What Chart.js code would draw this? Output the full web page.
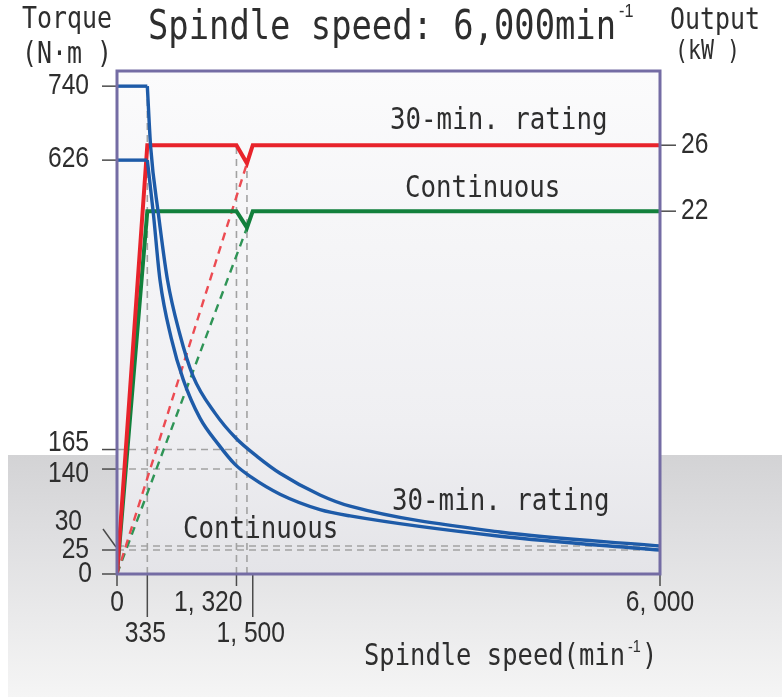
<!DOCTYPE html>
<html>
<head>
<meta charset="utf-8">
<script src="https://cdn.jsdelivr.net/npm/chart.js@4.4.1/dist/chart.umd.min.js"></script>
<style>
  html, body { margin: 0; padding: 0; background: #fff; }
  canvas { display: block; }
</style>
</head>
<body>
<canvas id="chart" width="782" height="697"></canvas>
<script>
// output curves (kW) against spindle speed (min^-1)
const outputSpeeds = [0, 335, 1320, 1436, 1500, 6000];
const output30min = [0, 26, 26, 24.9, 26, 26];
const outputContinuous = [0, 22, 22, 21, 22, 22];

// dashed output lines, from the origin down into the dip
const dashSpeeds = [0, 1436];
const dash30min = [0, 24.9];
const dashContinuous = [0, 21];

// torque curves (N·m)
const flatSpeeds = [0, 335];
const flat30min = [740, 740];
const flatContinuous = [626, 626];
const torque30Speeds = [335, 372, 456, 558, 690, 840, 1083, 1315, 1550, 1801, 2243, 2575, 4232, 6000];
const torque30min = [740, 646, 542, 435, 351, 282, 223, 183, 156, 134, 103, 87, 50, 30];
const torqueContSpeeds = [335, 401, 475, 600, 733, 917, 1116, 1304, 1488, 1801, 2243, 2575, 4232, 6000];
const torqueContinuous = [626, 542, 435, 342, 276, 215, 174, 146, 128, 104, 82, 73, 44, 25];

// grey guide lines
const guideTorques = [165, 140, 30, 25];
const guideTorqueEnds = [1320, 1320, 6000, 6000];

// tick labels
const torqueTicks = [740, 626, 165, 140, 30, 25, 0];
const outputTicks = [26, 22];
const speedTicks = [0, 335, 1320, 1500, 6000];

// the torque axis in the original is not linear: each labelled value is pinned to its height
const torqueBreaks = [[0, 0], [25, 36.4], [30, 42.5], [140, 159.2], [165, 188.8], [626, 627.8], [740, 740]];

function warpTorque(t) {
    for (let i = 1; i < torqueBreaks.length; i++) {
        const [t0, v0] = torqueBreaks[i - 1];
        const [t1, v1] = torqueBreaks[i];
        if (t <= t1) {
            return v0 + (t - t0) * (v1 - v0) / (t1 - t0);
        }
    }
    return t;
}

class TorqueScale extends Chart.LinearScale {
    getPixelForValue(value) {
        return super.getPixelForValue(warpTorque(value));
    }
}
TorqueScale.id = "torque";
TorqueScale.defaults = Chart.LinearScale.defaults;
Chart.register(TorqueScale);

const mono = '"DejaVu Sans Mono", "Liberation Mono", monospace';
const sans = '"Liberation Sans", Arial, sans-serif';
const ink = "#2e2e2e";

function text(ctx, str, x, y, size, family, align, squeeze) {
    ctx.save();
    ctx.font = `${size}px ${family}`;
    ctx.textAlign = align;
    ctx.textBaseline = "middle";
    ctx.fillStyle = ink;
    ctx.translate(x, y);
    ctx.scale(squeeze, 1);
    ctx.fillText(str, 0, 0);
    ctx.restore();
}

function stroke(ctx, x1, y1, x2, y2) {
    ctx.beginPath();
    ctx.moveTo(x1, y1);
    ctx.lineTo(x2, y2);
    ctx.stroke();
}

function formatSpeed(n) {
    return n >= 1000 ? n.toLocaleString("en-US").replace(",", ", ") : String(n);
}

const pts = (xs, ys) => xs.map((x, i) => ({ x, y: ys[i] }));

function guide(data, yAxisID) {
    return { data, yAxisID, borderColor: "#a2a2a2", borderWidth: 1.6, borderDash: [7, 5], order: 4 };
}

const backdrop = {
    id: "backdrop",
    beforeDraw(chart) {
        const { ctx, chartArea: a, width, height } = chart;
        ctx.save();
        ctx.fillStyle = "#fff";
        ctx.fillRect(0, 0, width, height);
        const floor = ctx.createLinearGradient(0, 455, 0, height);
        floor.addColorStop(0, "#d3d3d5");
        floor.addColorStop(0.35, "#dfdfe1");
        floor.addColorStop(1, "#f5f5f5");
        ctx.fillStyle = floor;
        ctx.fillRect(8, 455, width - 8, height - 455);
        const panel = ctx.createLinearGradient(0, a.top, 0, a.bottom);
        panel.addColorStop(0, "#fbfbfc");
        panel.addColorStop(0.7, "#efeff2");
        panel.addColorStop(1, "#e4e4e8");
        ctx.fillStyle = panel;
        ctx.fillRect(a.left, a.top, a.right - a.left, a.bottom - a.top);
        ctx.restore();
    }
};

// label tweaks: vertical shift and distance from the axis
const torqueLabelShift = [0, -1, -7, 5, -24, 0, 0];
const torqueLabelGap = [28, 28, 28, 28, 35, 28, 25];
const speedTickLong = [false, true, false, true, false];

const frame = {
    id: "frame",
    afterDraw(chart) {
        const { ctx, chartArea: a, scales } = chart;
        const sx = scales.x;
        const st = scales.torque;
        const sp = scales.power;
        ctx.save();
        ctx.strokeStyle = "#4b4b4b";
        ctx.lineWidth = 1.5;

        torqueTicks.forEach((v, i) => {
            const y = st.getPixelForValue(v);
            if (v === 30) {
                stroke(ctx, a.left - 14, y - 17, a.left - 1, y + 1);
            } else {
                stroke(ctx, a.left - 15, y, a.left, y);
            }
            text(ctx, String(v), a.left - torqueLabelGap[i], y + torqueLabelShift[i], 30, sans, "right", 0.82);
        });

        outputTicks.forEach((v) => {
            const y = sp.getPixelForValue(v);
            stroke(ctx, a.right, y, a.right + 16, y);
            text(ctx, String(v), a.right + 21, y, 30, sans, "left", 0.82);
        });

        speedTicks.forEach((v, i) => {
            const x = sx.getPixelForValue(v);
            const long = speedTickLong[i];
            stroke(ctx, x, a.bottom, x, a.bottom + (long ? 43 : 12));
            const label = formatSpeed(v);
            if (long) {
                text(ctx, label, x - 2, a.bottom + 60, 30, sans, "center", 0.82);
            } else if (v === 1320) {
                text(ctx, label, x + 6, a.bottom + 29, 30, sans, "right", 0.82);
            } else {
                text(ctx, label, x, a.bottom + 29, 30, sans, "center", 0.82);
            }
        });

        ctx.strokeStyle = "#746ca4";
        ctx.lineWidth = 3;
        ctx.strokeRect(a.left, a.top, a.right - a.left, a.bottom - a.top);

        text(ctx, "Spindle speed: 6,000min", 148, 29, 40, mono, "left", 0.845);
        text(ctx, "-1", 619, 12, 18, sans, "left", 0.9);

        text(ctx, "Torque", 22, 20, 30, mono, "left", 0.83);
        text(ctx, "(N·m )", 22, 55, 30, mono, "left", 0.83);
        text(ctx, "Output", 670, 21, 30, mono, "left", 0.83);
        text(ctx, "(kW )", 675, 52, 26, mono, "left", 0.83);

        text(ctx, "30-min. rating", 390, 121, 30, mono, "left", 0.86);
        text(ctx, "Continuous", 405, 189, 30, mono, "left", 0.86);
        text(ctx, "30-min. rating", 392, 502, 30, mono, "left", 0.86);
        text(ctx, "Continuous", 183, 530, 30, mono, "left", 0.86);

        text(ctx, "Spindle speed(min", 364, 657, 30, mono, "left", 0.85);
        text(ctx, "-1", 628, 648, 16, sans, "left", 0.9);
        text(ctx, ")", 642, 657, 30, mono, "left", 0.85);
        ctx.restore();
    }
};

const datasets = [];
guideTorques.forEach((t, i) => {
    datasets.push(guide(pts([0, guideTorqueEnds[i]], [t, t]), "torque"));
});
datasets.push(guide(pts([flatSpeeds[1], flatSpeeds[1]], [0, flat30min[1]]), "torque"));
datasets.push(guide(pts([outputSpeeds[2], outputSpeeds[2]], [0, output30min[2]]), "power"));
datasets.push(guide(pts([outputSpeeds[3], outputSpeeds[3]], [0, output30min[3]]), "power"));

datasets.push({
    data: pts(dashSpeeds, dash30min), yAxisID: "power",
    borderColor: "#ec4b52", borderWidth: 2.4, borderDash: [8, 6], order: 3
});
datasets.push({
    data: pts(dashSpeeds, dashContinuous), yAxisID: "power",
    borderColor: "#2f9456", borderWidth: 2.4, borderDash: [8, 6], order: 3
});
datasets.push({
    data: pts(outputSpeeds, output30min), yAxisID: "power",
    borderColor: "#e8232b", borderWidth: 4, order: 2
});
datasets.push({
    data: pts(outputSpeeds, outputContinuous), yAxisID: "power",
    borderColor: "#12803c", borderWidth: 4, order: 2
});

const blue = "#1e5ba8";
datasets.push({ data: pts(flatSpeeds, flat30min), yAxisID: "torque", borderColor: blue, borderWidth: 3.4, order: 1 });
datasets.push({ data: pts(flatSpeeds, flatContinuous), yAxisID: "torque", borderColor: blue, borderWidth: 3.4, order: 1 });
datasets.push({
    data: pts(torque30Speeds, torque30min), yAxisID: "torque",
    borderColor: blue, borderWidth: 3.4, cubicInterpolationMode: "monotone", order: 1
});
datasets.push({
    data: pts(torqueContSpeeds, torqueContinuous), yAxisID: "torque",
    borderColor: blue, borderWidth: 3.4, cubicInterpolationMode: "monotone", order: 1
});

new Chart(document.getElementById("chart"), {
    type: "line",
    data: { datasets },
    options: {
        responsive: false,
        animation: false,
        events: [],
        layout: { padding: { left: 117, top: 71, right: 122, bottom: 123 } },
        elements: { point: { radius: 0 }, line: { tension: 0 } },
        plugins: { legend: { display: false }, tooltip: { enabled: false } },
        scales: {
            x: { type: "linear", min: 0, max: 6000, display: false },
            torque: { type: "torque", position: "left", min: 0, max: 763, display: false },
            power: { type: "linear", position: "right", min: 0, max: 30.5, display: false }
        }
    },
    plugins: [backdrop, frame]
});
</script>
</body>
</html>
